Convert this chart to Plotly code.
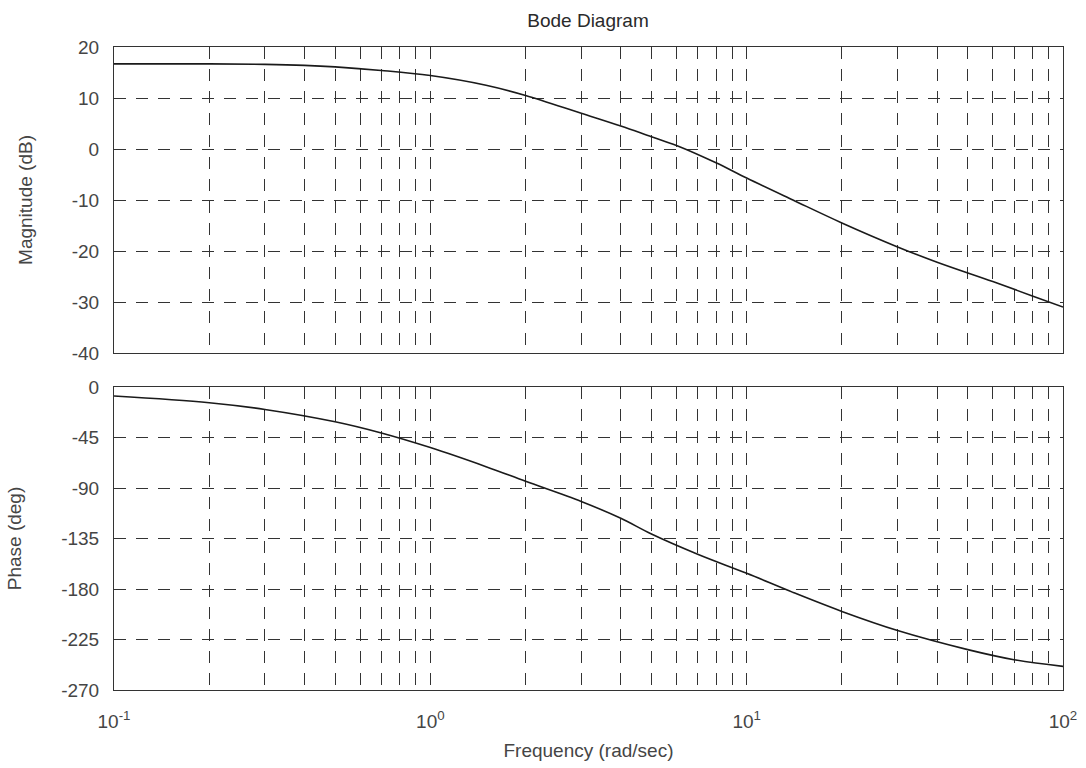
import plotly.graph_objects as go

# ---- data ----
mag_freq = [0.1, 0.2, 0.3, 0.4, 0.5, 0.7, 1.0, 1.5, 2.0, 3.0, 4.0, 5.0, 6.0, 8.0,
            10, 14, 20, 30, 40, 60, 80, 100]
mag_db = [16.7, 16.7, 16.6, 16.4, 16.1, 15.4, 14.4, 12.5, 10.5, 7.0, 4.5, 2.4, 0.7, -2.7,
          -5.7, -10.0, -14.5, -19.2, -22.2, -26.0, -28.8, -31.0]

ph_freq = [0.1, 0.2, 0.3, 0.5, 0.7, 1.0, 1.5, 2.0, 3.0, 4.0, 5.0, 7.0, 10, 14, 20,
           30, 50, 70, 100]
ph_deg = [-8, -14, -20, -31, -41, -54, -71, -84, -102, -117, -131, -149, -166, -183,
          -200, -217, -234, -243, -249]

decades = [-1, 0, 1, 2]
x_major = [10.0 ** e for e in decades]
x_major_text = ["10<sup>%d</sup>" % e for e in decades]
x_minor = [d * 10.0 ** e for e in [-1, 0, 1] for d in range(2, 10)]

mag_ticks = [20, 10, 0, -10, -20, -30, -40]
mag_ticktext = ["20", "10", "0", "-10", "-20", "-30", "-40"]
ph_ticks = [0, -45, -90, -135, -180, -225, -270]
ph_ticktext = ["0", "-45", "-90", "-135", "-180", "-225", "-270"]

title_text = "Bode Diagram"
mag_label = "Magnitude (dB)"
ph_label = "Phase (deg)"
x_label = "Frequency (rad/sec)"

W, H = 1086, 768
FONT = "Liberation Sans, Arial, sans-serif"
TXT = "#454545"
GRID = "#333333"
LINE = "#1a1a1a"
DASH = "12px,10px"

fig = go.Figure()
fig.add_trace(go.Scatter(x=mag_freq, y=mag_db, mode="lines",
                         line=dict(color=LINE, width=1.6, shape="spline", smoothing=1.0),
                         xaxis="x", yaxis="y", showlegend=False))
fig.add_trace(go.Scatter(x=ph_freq, y=ph_deg, mode="lines",
                         line=dict(color=LINE, width=1.6, shape="spline", smoothing=1.0),
                         xaxis="x2", yaxis="y2", showlegend=False))

xdom = [114 / W, 1063 / W]
ydom_top = [(H - 353) / H, (H - 47) / H]
ydom_bot = [(H - 690) / H, (H - 387) / H]

common_x = dict(type="log", range=[-1, 2], domain=xdom, tickmode="array", tickvals=x_major,
                showgrid=True, gridcolor=GRID, griddash=DASH, gridwidth=1,
                minor=dict(tickmode="array", tickvals=x_minor, showgrid=True, gridcolor=GRID,
                           griddash=DASH, gridwidth=1, ticks=""),
                showline=True, linecolor=GRID, linewidth=1, mirror=True, ticks="",
                zeroline=False, automargin=False,
                tickfont=dict(family=FONT, size=19, color=TXT))

common_y = dict(showgrid=True, gridcolor=GRID, griddash=DASH, gridwidth=1, showline=True,
                linecolor=GRID, mirror=True, ticks="", zeroline=False, automargin=False,
                ticklabelstandoff=10, tickmode="array",
                tickfont=dict(family=FONT, size=19, color=TXT))

fig.update_layout(
    width=W, height=H, margin=dict(l=0, r=0, t=0, b=0),
    paper_bgcolor="white", plot_bgcolor="white",
    title=dict(text=title_text, x=588 / W, xanchor="center", y=1 - 20 / H, yanchor="middle",
               font=dict(family=FONT, size=19, color="#2a2a2a")),
    xaxis=dict(common_x, anchor="y", showticklabels=False),
    xaxis2=dict(common_x, anchor="y2", ticktext=x_major_text, showticklabels=True,
                ticklabelstandoff=14,
                title=dict(text=x_label, font=dict(family=FONT, size=19, color=TXT), standoff=12)),
    yaxis=dict(common_y, domain=ydom_top, range=[-40, 20], tickvals=mag_ticks,
               ticktext=mag_ticktext,
               title=dict(text=mag_label, font=dict(family=FONT, size=19, color=TXT), standoff=34)),
    yaxis2=dict(common_y, domain=ydom_bot, range=[-270, 0], tickvals=ph_ticks,
                ticktext=ph_ticktext,
                title=dict(text=ph_label, font=dict(family=FONT, size=19, color=TXT), standoff=34)),
)

fig.write_html("out.html")
